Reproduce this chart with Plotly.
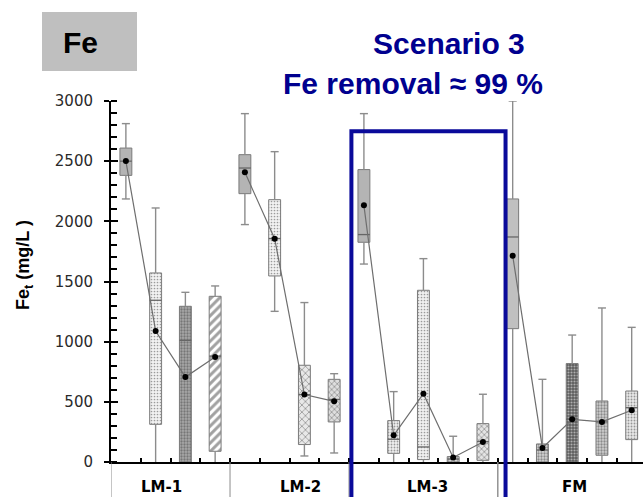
import plotly.graph_objects as go

# ---- data: Fe_t (mg/L) box statistics, one entry per box, left to right ----
groups = ["LM-1", "LM-2", "LM-3", "FM"]
group_sizes = [4, 4, 5, 5]
group_label_x = [1.19, 5.88, 10.13, 15.07]

whisker_low = [2186, 0, 0, 0,
               1973, 1252, 50, 75,
               1645, 0, 0, 0, 0,
               0, 0, 0, 0, 0]
q1 = [2382, 313, 0, 89,
      2230, 1546, 145, 333,
      1826, 72, 20, 0, 14,
      1108, 0, 0, 56, 186]
median = [2500, 1344, 1011, 880,
          2443, 1856, 560, 520,
          1890, 189, 125, 25, 170,
          1870, 100, 355, 333, 452]
q3 = [2609, 1571, 1294, 1377,
      2554, 2180, 804, 687,
      2430, 344, 1427, 45, 319,
      2186, 150, 818, 507, 590]
whisker_high = [2812, 2111, 1410, 1463,
                2895, 2579, 1325, 734,
                2895, 585, 1690, 214, 563,
                3000, 687, 1055, 1280, 1119]
mean = [2501, 1089, 706, 873,
        2407, 1856, 560, 504,
        2133, 222, 568, 37, 166,
        1715, 116, 355, 333, 430]

# ---- box fill styles ----
fill_shape = ["", ".", ".", "/",
              "", ".", "x", "x",
              "", ".", ".", ".", "x",
              "", ".", ".", ".", "."]
fill_bg = ["#b4b4b4", "#f2f2f2", "#a8a8a8", "#ffffff",
           "#b4b4b4", "#f2f2f2", "#e8e8e8", "#dedede",
           "#b4b4b4", "#efefef", "#f0f0f0", "#dddddd", "#e4e4e4",
           "#c0c0c0", "#d4d4d4", "#5c5c5c", "#d0d0d0", "#e8e8e8"]
fill_fg = ["#b4b4b4", "#c4c4c4", "#4a4a4a", "#1a1a1a",
           "#b4b4b4", "#c4c4c4", "#555555", "#555555",
           "#b4b4b4", "#bdbdbd", "#c4c4c4", "#555555", "#555555",
           "#c0c0c0", "#505050", "#8a8a8a", "#444444", "#b0b0b0"]
fill_size = [6, 3, 3, 6,
             6, 3, 5, 4,
             6, 3, 3, 3, 4,
             6, 3, 3, 3, 3]
fill_solidity = [0.3, 0.25, 0.45, 0.5,
                 0.3, 0.25, 0.3, 0.35,
                 0.3, 0.3, 0.25, 0.45, 0.35,
                 0.3, 0.45, 0.4, 0.45, 0.3]

# ---- geometry ----
W, H = 643, 497
ML, MR, MT, MB = 111, 0, 101, 35
BOX_W = 0.40
CAP_W = 0.27
X_MAX = 17.38
FRAME_X = (7.58, 12.76)
FRAME_TOP = 2748
Y_MAX = 3000

positions = list(range(sum(group_sizes)))
group_starts = [sum(group_sizes[:i]) for i in range(len(group_sizes))]
separators = [s - 0.5 for s in group_starts] + [group_starts[-1] - 0.5]


def px_x(px):
    return (px - ML) / (W - ML - MR)


def px_y(py):
    return (H - MB - py) / (H - MT - MB)


fig = go.Figure()

# boxes (interquartile range)
fig.add_trace(go.Bar(
    x=positions,
    base=q1,
    y=[b - a for a, b in zip(q1, q3)],
    width=BOX_W,
    marker=dict(
        color=fill_bg,
        line=dict(color="#7a7a7a", width=1),
        pattern=dict(shape=fill_shape, bgcolor=fill_bg, fgcolor=fill_fg,
                     size=fill_size, solidity=fill_solidity),
    ),
    hoverinfo="skip",
))

# whiskers and caps
wx, wy = [], []
for x, lo, a, b, hi in zip(positions, whisker_low, q1, q3, whisker_high):
    wx += [x, x, None, x, x, None]
    wy += [hi, b, None, a, lo, None]
    wx += [x - CAP_W / 2, x + CAP_W / 2, None]
    wy += [hi, hi, None]
    if lo > 0:
        wx += [x - CAP_W / 2, x + CAP_W / 2, None]
        wy += [lo, lo, None]
fig.add_trace(go.Scatter(x=wx, y=wy, mode="lines",
                         line=dict(color="#8c8c8c", width=1.4),
                         cliponaxis=False, hoverinfo="skip"))

# medians
mx, my = [], []
for x, m in zip(positions, median):
    mx += [x - BOX_W / 2, x + BOX_W / 2, None]
    my += [m, m, None]
fig.add_trace(go.Scatter(x=mx, y=my, mode="lines",
                         line=dict(color="#666666", width=1.3),
                         hoverinfo="skip"))

# mean values connected within each group
lx, ly = [], []
for start, n in zip(group_starts, group_sizes):
    lx += positions[start:start + n] + [None]
    ly += mean[start:start + n] + [None]
fig.add_trace(go.Scatter(x=lx, y=ly, mode="lines+markers",
                         line=dict(color="#6e6e6e", width=1.2),
                         marker=dict(color="black", size=6),
                         hoverinfo="skip"))

# invisible trace that carries the inner major ticks of the y axis
fig.add_trace(go.Scatter(x=[0], y=[0], yaxis="y2", mode="markers",
                         marker=dict(opacity=0), hoverinfo="skip"))

shapes = []
# group separators below the x axis
for s in separators:
    shapes.append(dict(type="line", xref="x", yref="paper",
                       x0=s, x1=s, y0=0, y1=-0.2,
                       line=dict(color="#8c8c8c", width=1)))
# highlight frame
shapes.append(dict(type="rect", xref="x", yref="paper",
                   x0=FRAME_X[0], x1=FRAME_X[1],
                   y0=-0.2, y1=FRAME_TOP / Y_MAX,
                   line=dict(color="#0a0a9a", width=4), layer="above"))
# element tag
shapes.append(dict(type="rect", xref="paper", yref="paper",
                   x0=px_x(42), x1=px_x(137), y0=px_y(71), y1=px_y(12),
                   fillcolor="#bfbfbf", line=dict(width=0), layer="below"))

centered = dict(showarrow=False, xanchor="center", yanchor="middle")
annotations = [
    dict(text="<b>Fe</b>", xref="paper", yref="paper",
         x=px_x(80), y=px_y(42),
         font=dict(family="Liberation Sans", size=30, color="black"),
         **centered),
    dict(text="<b>Scenario 3</b>", xref="paper", yref="paper",
         x=px_x(449), y=px_y(44),
         font=dict(family="Liberation Sans", size=30, color="#00008f"),
         **centered),
    dict(text="<b>Fe removal ≈ 99 %</b>", xref="paper", yref="paper",
         x=px_x(413), y=px_y(83),
         font=dict(family="Liberation Sans", size=30, color="#00008f"),
         **centered),
    dict(text="<b>Fe<sub>t</sub> (mg/L )</b>", xref="paper", yref="paper",
         x=px_x(24), y=px_y(265), textangle=-90,
         font=dict(family="Liberation Sans", size=18, color="black"),
         **centered),
]
for name, gx in zip(groups, group_label_x):
    annotations.append(dict(text=f"<b>{name}</b>", xref="x", yref="paper",
                            x=gx, y=px_y(487),
                            font=dict(family="DejaVu Sans", size=15,
                                      color="black"),
                            **centered))

fig.update_layout(
    width=W, height=H,
    margin=dict(l=ML, r=MR, t=MT, b=MB, pad=0),
    paper_bgcolor="white", plot_bgcolor="white",
    showlegend=False, barmode="overlay",
    shapes=shapes, annotations=annotations,
    xaxis=dict(range=[-0.5, X_MAX], showgrid=False, zeroline=False,
               showline=True, linecolor="black", linewidth=1.5,
               tickmode="array",
               tickvals=[p + 0.5 for p in positions[:-1]],
               ticks="inside", ticklen=4, tickwidth=2, tickcolor="black",
               showticklabels=False),
    yaxis=dict(range=[0, Y_MAX], showgrid=False, zeroline=False,
               showline=True, linecolor="black", linewidth=2,
               tick0=0, dtick=500, ticks="outside", ticklen=5,
               tickwidth=2, tickcolor="black", ticklabelstandoff=8,
               tickfont=dict(family="DejaVu Sans", size=15, color="#2a2a2a"),
               minor=dict(ticks="inside", tick0=0, dtick=100, ticklen=6,
                          tickwidth=2, tickcolor="black")),
    yaxis2=dict(range=[0, Y_MAX], overlaying="y", side="left",
                showgrid=False, zeroline=False, showline=False,
                tick0=0, dtick=500, ticks="inside", ticklen=7,
                tickwidth=2, tickcolor="black", showticklabels=False),
)

fig.write_html("out.html")
